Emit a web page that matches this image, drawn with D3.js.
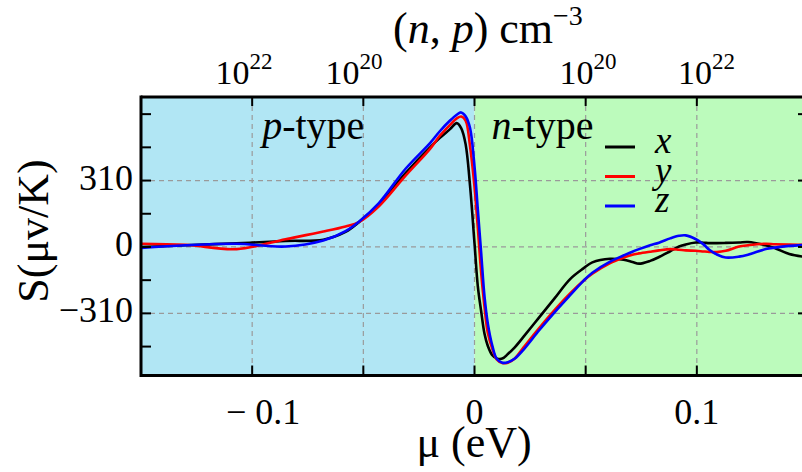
<!DOCTYPE html>
<html>
<head>
<meta charset="utf-8">
<script src="https://cdnjs.cloudflare.com/ajax/libs/d3/7.8.5/d3.min.js"></script>
<style>
body { margin: 0; background: #fff; }
svg { display: block; }
text, tspan { font-family: 'Liberation Serif' !important; }
</style>
</head>
<body>
<div id="chart-area"></div>
<script>
// chemical potential (eV)
var mu = [-0.150, -0.130, -0.107, -0.085, -0.068, -0.058, -0.052, -0.043, -0.031, -0.020,
          -0.0157, -0.011, -0.008, -0.006, -0.004, -0.002, 0, 0.0015, 0.003, 0.0045,
          0.006, 0.008, 0.010, 0.0125, 0.015, 0.018, 0.022, 0.029, 0.036, 0.043,
          0.049, 0.053, 0.061, 0.067, 0.071, 0.074, 0.079, 0.083, 0.088, 0.092,
          0.095, 0.0996, 0.103, 0.1056, 0.109, 0.113, 0.119, 0.123, 0.131, 0.135,
          0.1416, 0.150];

// Seebeck coefficient S (uV/K) along x, y, z
var sX = [0, 8, 17, 28, 34, 70, 115, 200, 345, 465,
          508, 550, 578, 555, 480, 285, 18, -184, -300, -405,
          -462, -505, -520, -521, -500, -470, -420, -330, -240, -150,
          -100, -72, -55, -60, -70, -78, -65, -47, -20, 2,
          12, 21, 20, 18, 18, 19, 21, 23, 8, -5,
          -33, -48];
var sY = [15, 10, -10, 36, 72, 96, 116, 190, 333, 458,
          518, 570, 600, 609, 590, 470, 282, 88, -121, -280,
          -402, -475, -525, -542, -540, -522, -470, -380, -295, -217,
          -158, -125, -75, -50, -36, -30, -22, -16, -10, -13,
          -16, -18, -21, -23, -24, -18, 2, 8, 15, 13,
          11, 10];
var sZ = [-5, 8, 15, 2, 30, 74, 118, 205, 365, 485,
          539, 590, 617, 628, 610, 555, 376, 174, -28, -231,
          -358, -460, -522, -540, -538, -522, -480, -390, -305, -225,
          -158, -120, -68, -40, -22, -10, 8, 20, 40, 52,
          54, 36, 12, -13, -35, -49, -45, -36, -10, -3,
          5, 10];

var seriesNames = ["x", "y", "z"];
var seriesColors = ["#000000", "#ff0000", "#0000ff"];

var xTicks = [-0.1, -0.05, 0, 0.05, 0.1];
var xLabelVals = [-0.1, 0, 0.1];
var xLabelText = ["\u2212 0.1", "0", "0.1"];
var yTicks = [-465, -310, -155, 0, 155, 310, 465, 620];
var yGrid = [-310, 0, 310];
var yLabelVals = [-310, 0, 310];
var yLabelText = ["\u2212310", "0", "310"];
var yRightTicks = [-310, 0, 310, 620];
// carrier concentration labels on the top axis
var topLabelMu = [-0.103, -0.0535, 0.0517, 0.105];
var topLabelExp = ["22", "20", "20", "22"];

var FONT = "'Liberation Serif'";

var margin = { left: 141, right: -6, top: 97, bottom: 96.5 };
var W = 802, H = 472;
var width = W - margin.left - margin.right,
    height = H - margin.top - margin.bottom;

var svg = d3.select("#chart-area")
    .append("svg")
        .attr("width", W)
        .attr("height", H);

var g = svg.append("g")
    .attr("transform", "translate(" + margin.left + "," + margin.top + ")");

var x = d3.scaleLinear().domain([-0.15, 0.15]).range([0, width]);
var y = d3.scaleLinear().domain([-600, 700]).range([height, 0]);

// p-type / n-type background
g.append("rect")
    .attr("x", 0).attr("y", 0)
    .attr("width", x(0)).attr("height", height)
    .attr("fill", "#b1e6f4");
g.append("rect")
    .attr("x", x(0)).attr("y", 0)
    .attr("width", width - x(0)).attr("height", height)
    .attr("fill", "#bcfbbc");

// grid
g.selectAll(".vgrid").data(xTicks).enter().append("line")
    .attr("x1", d => x(d)).attr("x2", d => x(d))
    .attr("y1", 0).attr("y2", height)
    .attr("stroke", "#9a9a9a").attr("stroke-width", 1.2)
    .attr("stroke-dasharray", "5,4");
g.selectAll(".hgrid").data(yGrid).enter().append("line")
    .attr("x1", 0).attr("x2", width)
    .attr("y1", d => y(d)).attr("y2", d => y(d))
    .attr("stroke", "#9a9a9a").attr("stroke-width", 1.2)
    .attr("stroke-dasharray", "5,4");

// region labels
var pt = g.append("text").attr("x", x(-0.0955)).attr("y", 42)
    .attr("font-size", 40).attr("fill", "#000");
pt.append("tspan").attr("font-style", "italic").text("p");
pt.append("tspan").text("-type");
var nt = g.append("text").attr("x", x(0.0076)).attr("y", 42)
    .attr("font-size", 40).attr("fill", "#000");
nt.append("tspan").attr("font-style", "italic").text("n");
nt.append("tspan").text("-type");

// curves
g.append("clipPath").attr("id", "clip")
    .append("rect").attr("width", width).attr("height", height);

var line = d3.line()
    .x(d => x(d[0]))
    .y(d => y(d[1]))
    .curve(d3.curveCatmullRom.alpha(0.5));

var allSeries = [sX, sY, sZ];
allSeries.forEach(function(vals, i) {
    g.append("path")
        .datum(mu.map((m, j) => [m, vals[j]]))
        .attr("clip-path", "url(#clip)")
        .attr("fill", "none")
        .attr("stroke", seriesColors[i])
        .attr("stroke-width", 2.6)
        .attr("d", line);
});

// legend
var legend = g.selectAll(".legend").data(seriesNames).enter().append("g")
    .attr("transform", (d, i) => "translate(" + (605 - margin.left) + "," + (147 - margin.top + i * 29.5) + ")");
legend.append("line")
    .attr("x1", 0).attr("x2", 30)
    .attr("stroke", (d, i) => seriesColors[i])
    .attr("stroke-width", 3);
legend.append("text")
    .attr("x", 50).attr("y", 6)
    .attr("font-size", 37).attr("font-style", "italic")
    .text(d => d);

// frame and ticks
var axisColor = "#000";
g.append("line").attr("x1", 0).attr("x2", 0).attr("y1", -1.5).attr("y2", height + 1.5)
    .attr("stroke", axisColor).attr("stroke-width", 3);
g.append("line").attr("x1", 0).attr("x2", width).attr("y1", 0).attr("y2", 0)
    .attr("stroke", axisColor).attr("stroke-width", 3);
g.append("line").attr("x1", 0).attr("x2", width).attr("y1", height).attr("y2", height)
    .attr("stroke", axisColor).attr("stroke-width", 3);
g.append("line").attr("x1", width).attr("x2", width).attr("y1", 0).attr("y2", height)
    .attr("stroke", axisColor).attr("stroke-width", 3);

g.selectAll(".tb").data(xTicks).enter().append("line")
    .attr("x1", d => x(d)).attr("x2", d => x(d))
    .attr("y1", height).attr("y2", height - 10)
    .attr("stroke", axisColor).attr("stroke-width", 2);
g.selectAll(".tt").data(xTicks).enter().append("line")
    .attr("x1", d => x(d)).attr("x2", d => x(d))
    .attr("y1", 0).attr("y2", 9)
    .attr("stroke", axisColor).attr("stroke-width", 2);
g.selectAll(".tl").data(yTicks).enter().append("line")
    .attr("x1", 0).attr("x2", 10)
    .attr("y1", d => y(d)).attr("y2", d => y(d))
    .attr("stroke", axisColor).attr("stroke-width", 2);
g.selectAll(".tr").data(yRightTicks).enter().append("line")
    .attr("x1", width).attr("x2", width - 10)
    .attr("y1", d => y(d)).attr("y2", d => y(d))
    .attr("stroke", axisColor).attr("stroke-width", 2);

// tick labels
g.selectAll(".xl").data(xLabelVals).enter().append("text")
    .attr("x", (d, i) => x(d) + (d < 0 ? 11 : 0))
    .attr("y", 424 - margin.top)
    .attr("text-anchor", "middle")
    .attr("font-size", 36)
    .text((d, i) => xLabelText[i]);
g.selectAll(".yl").data(yLabelVals).enter().append("text")
    .attr("x", -8)
    .attr("y", d => y(d) + 9)
    .attr("text-anchor", "end")
    .attr("font-size", 36)
    .text((d, i) => yLabelText[i]);

var tl = g.selectAll(".topl").data(topLabelMu).enter().append("text")
    .attr("x", d => x(d) - 30)
    .attr("y", 84 - margin.top)
    .attr("font-size", 34);
tl.append("tspan").text("10");
tl.append("tspan").attr("font-size", 23).attr("dy", -15).text((d, i) => topLabelExp[i]);

// axis titles
svg.append("text")
    .attr("x", 474).attr("y", 457)
    .attr("text-anchor", "middle")
    .attr("font-size", 44)
    .text("\u03bc (eV)");
svg.append("text")
    .attr("transform", "translate(48,231) rotate(-90)")
    .attr("text-anchor", "middle")
    .attr("font-size", 44)
    .text("S(\u03bcv/K)");

var tt = svg.append("text").attr("x", 393).attr("y", 43).attr("font-size", 44);
tt.append("tspan").text("(");
tt.append("tspan").attr("font-style", "italic").text("n");
tt.append("tspan").text(", ");
tt.append("tspan").attr("font-style", "italic").text("p");
tt.append("tspan").text(") cm");
tt.append("tspan").attr("font-size", 28).attr("dy", -18).text("\u22123");

svg.selectAll("text").attr("font-family", FONT).style("font-family", FONT);
</script>
</body>
</html>
